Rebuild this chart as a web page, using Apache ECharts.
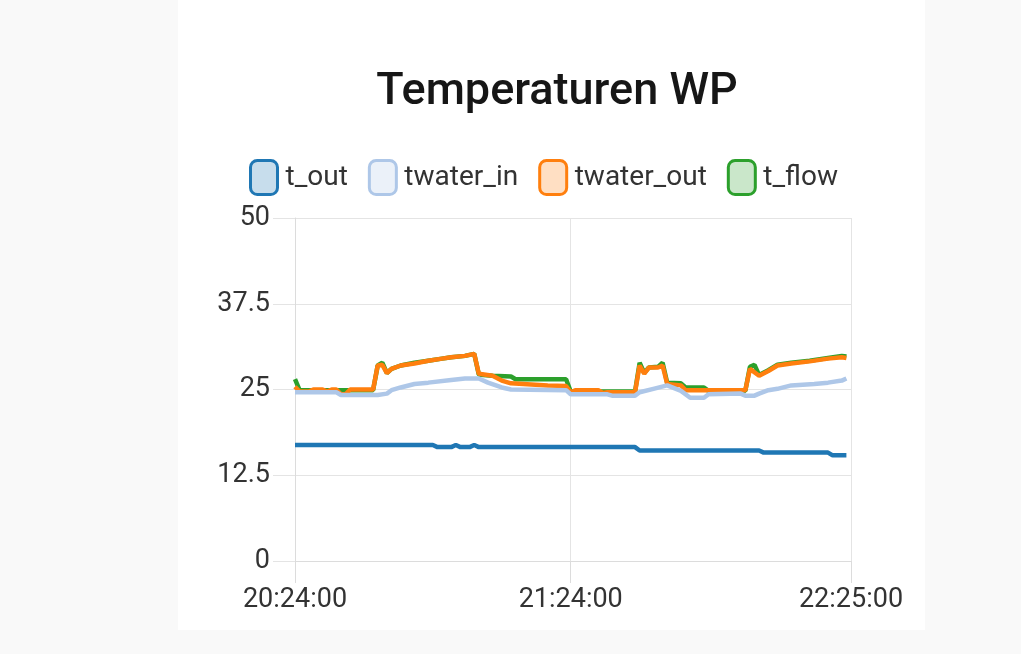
<!DOCTYPE html>
<html lang="de">
<head>
<meta charset="UTF-8">
<title>Temperaturen WP</title>
<script src="https://cdn.jsdelivr.net/npm/echarts@6/dist/echarts.min.js"></script>
<style>
    html, body {
        margin: 0;
        padding: 0;
        background: #f9f9f9;
    }
    .card {
        position: absolute;
        left: 178px;
        top: 0;
        width: 747px;
        height: 630px;
        background: #fff;
    }
    #chart {
        position: absolute;
        left: 0;
        top: 0;
        width: 1021px;
        height: 654px;
    }
</style>
</head>
<body>
<div class="card"></div>
<div id="chart"></div>
<script>
    // Zeitachse: Start, Ende und beschriftete Zeitpunkte
    var axisStart = '20:24:00';
    var axisEnd = '22:25:00';
    var xTicks = ['20:24:00', '21:24:00', '22:25:00'];
    var yTicks = [0, 12.5, 25, 37.5, 50];

    var seriesNames = ['t_out', 'twater_in', 'twater_out', 't_flow'];
    var seriesColors = ['#1f77b4', '#aec7e8', '#ff7f0e', '#2ca02c'];
    var legendFills = ['rgba(31,119,180,0.25)', 'rgba(174,199,232,0.25)', 'rgba(255,127,14,0.25)', 'rgba(44,160,44,0.25)'];

    var tOut = [
        ['20:24', 16.9], ['20:54', 16.9], ['20:55', 16.6], ['20:58', 16.6], ['20:59', 16.9],
        ['21:00', 16.6], ['21:02', 16.6], ['21:03', 16.9], ['21:04', 16.6], ['21:38', 16.6],
        ['21:39', 16.1], ['22:05', 16.1], ['22:06', 15.8], ['22:20', 15.8], ['22:21', 15.4],
        ['22:24', 15.4]
    ];

    var twaterIn = [
        ['20:24', 24.6], ['20:33', 24.6], ['20:34', 24.2], ['20:42', 24.2], ['20:44', 24.4],
        ['20:45', 24.9], ['20:47', 25.3], ['20:50', 25.8], ['20:53', 26.0], ['20:58', 26.4],
        ['21:01', 26.6], ['21:04', 26.6], ['21:06', 26.0], ['21:09', 25.3], ['21:11', 25.0],
        ['21:23', 24.9], ['21:24', 24.3], ['21:32', 24.3], ['21:33', 24.1], ['21:38', 24.1],
        ['21:39', 24.6], ['21:42', 25.1], ['21:45', 25.6], ['21:48', 24.8], ['21:50', 23.8],
        ['21:53', 23.8], ['21:54', 24.3], ['22:01', 24.4], ['22:02', 24.1], ['22:04', 24.1],
        ['22:05', 24.4], ['22:07', 24.9], ['22:09', 25.1], ['22:12', 25.6], ['22:17', 25.8],
        ['22:20', 26.0], ['22:23', 26.3], ['22:24', 26.6]
    ];

    var twaterOut = [
        ['20:24', 25.4], ['20:25', 24.7], ['20:27', 24.7], ['20:28', 25.0], ['20:30', 25.0],
        ['20:31', 24.7], ['20:32', 25.0], ['20:33', 25.0], ['20:34', 24.3], ['20:35', 24.3],
        ['20:36', 25.0], ['20:41', 25.0], ['20:42', 28.5], ['20:43', 28.6], ['20:44', 27.4],
        ['20:45', 28.0], ['20:47', 28.5], ['20:50', 28.8], ['20:53', 29.2], ['20:56', 29.5],
        ['20:58', 29.7], ['21:01', 29.9], ['21:03', 30.2], ['21:04', 27.3], ['21:07', 27.0],
        ['21:09', 26.3], ['21:11', 25.9], ['21:19', 25.6], ['21:23', 25.5], ['21:24', 24.6],
        ['21:25', 24.9], ['21:30', 24.9], ['21:31', 24.5], ['21:32', 24.6], ['21:38', 24.6],
        ['21:39', 28.5], ['21:40', 27.3], ['21:41', 28.2], ['21:43', 28.2], ['21:44', 28.5],
        ['21:45', 25.8], ['21:48', 25.6], ['21:49', 24.9], ['22:02', 24.9], ['22:03', 28.0],
        ['22:05', 27.0], ['22:07', 27.7], ['22:09', 28.5], ['22:12', 28.8], ['22:16', 29.1],
        ['22:20', 29.5], ['22:23', 29.7], ['22:24', 29.6]
    ];

    var tFlow = [
        ['20:24', 26.5], ['20:25', 24.9], ['20:41', 24.9], ['20:42', 28.5], ['20:43', 28.9],
        ['20:44', 27.4], ['20:45', 28.0], ['20:47', 28.5], ['20:50', 28.9], ['20:53', 29.2],
        ['20:56', 29.5], ['20:58', 29.7], ['21:01', 29.9], ['21:03', 30.2], ['21:04', 27.2],
        ['21:05', 27.1], ['21:07', 27.0], ['21:11', 26.9], ['21:12', 26.5], ['21:23', 26.5],
        ['21:24', 24.7], ['21:38', 24.7], ['21:39', 28.9], ['21:40', 27.4], ['21:41', 28.2],
        ['21:43', 28.3], ['21:44', 28.9], ['21:45', 26.0], ['21:48', 25.9], ['21:49', 25.3],
        ['21:53', 25.3], ['21:54', 24.8], ['22:02', 24.8], ['22:03', 28.3], ['22:04', 28.6],
        ['22:05', 27.1], ['22:07', 27.8], ['22:09', 28.6], ['22:12', 28.9], ['22:16', 29.2],
        ['22:20', 29.6], ['22:23', 29.9], ['22:24', 29.8]
    ];

    var seriesData = [tOut, twaterIn, twaterOut, tFlow];

    // Uhrzeit -> Minuten seit Mitternacht
    function toMin(s) {
        var p = s.split(':');
        return +p[0] * 60 + +p[1] + (p[2] ? +p[2] / 60 : 0);
    }

    function pad(n) {
        return n < 10 ? '0' + n : '' + n;
    }

    function fmtMin(v) {
        var total = Math.round(v * 60);
        var h = Math.floor(total / 3600);
        var m = Math.floor((total % 3600) / 60);
        var s = total % 60;
        return pad(h) + ':' + pad(m) + ':' + pad(s);
    }

    var chart = echarts.init(document.getElementById('chart'));
    var labelFont = 'Roboto, "Noto Sans", sans-serif';
    var tickMins = xTicks.map(toMin);

    chart.setOption({
        animation: false,
        title: {
            text: 'Temperaturen WP',
            left: 552,
            textAlign: 'center',
            top: 65,
            textStyle: {
                fontFamily: labelFont,
                fontSize: 45,
                fontWeight: 500,
                color: '#161616'
            }
        },
        legend: {
            left: 244,
            top: 154,
            icon: 'roundRect',
            itemWidth: 27,
            itemHeight: 34,
            itemGap: 20,
            textStyle: {
                fontFamily: labelFont,
                fontSize: 28,
                color: '#333',
                padding: [0, 0, 0, 3]
            },
            data: seriesNames.map(function (name, i) {
                return {
                    name: name,
                    itemStyle: {
                        color: legendFills[i],
                        borderColor: seriesColors[i],
                        borderWidth: 3
                    }
                };
            })
        },
        grid: {
            left: 295,
            right: 170,
            top: 218,
            bottom: 93
        },
        xAxis: {
            type: 'value',
            min: toMin(axisStart),
            max: toMin(axisEnd),
            axisLine: {lineStyle: {color: '#dcdcdc', width: 1}},
            axisTick: {
                show: true,
                length: 22,
                customValues: tickMins,
                lineStyle: {color: '#dcdcdc'}
            },
            axisLabel: {
                customValues: tickMins,
                margin: 26,
                fontFamily: labelFont,
                fontSize: 27,
                color: '#333',
                formatter: fmtMin
            },
            splitLine: {show: true, lineStyle: {color: '#e4e4e4'}}
        },
        yAxis: {
            type: 'value',
            min: yTicks[0],
            max: yTicks[yTicks.length - 1],
            interval: 12.5,
            axisLine: {show: true, lineStyle: {color: '#dcdcdc', width: 1}},
            axisTick: {show: true, length: 22, lineStyle: {color: '#e4e4e4'}},
            axisLabel: {
                margin: 25,
                fontFamily: labelFont,
                fontSize: 27,
                color: '#333'
            },
            splitLine: {show: true, lineStyle: {color: '#e4e4e4'}}
        },
        series: seriesNames.map(function (name, i) {
            return {
                name: name,
                type: 'line',
                // erste Reihe liegt oben, wie im Original
                z: 10 - i,
                showSymbol: false,
                symbol: 'none',
                color: seriesColors[i],
                lineStyle: {width: 4.5, color: seriesColors[i]},
                data: seriesData[i].map(function (p) {
                    return [toMin(p[0]), p[1]];
                })
            };
        })
    });
</script>
</body>
</html>
